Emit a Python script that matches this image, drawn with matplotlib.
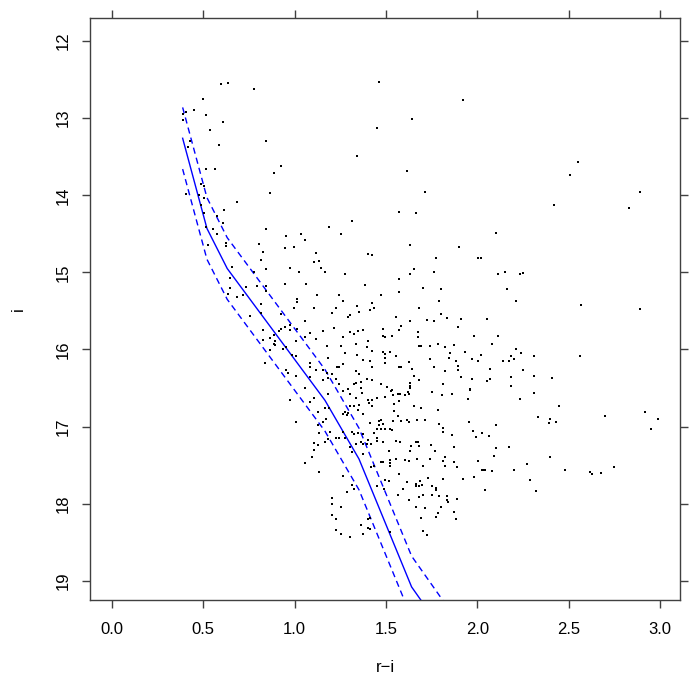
import matplotlib
matplotlib.use("Agg")
import matplotlib.pyplot as plt

plt.rcParams['font.family'] = ['Liberation Sans', 'DejaVu Sans']

# star colours (r-i) and magnitudes (i)
ri = [
    0.597, 0.635, 0.777, 0.498, 0.449, 0.389, 0.405, 0.389, 0.514, 0.607,
    0.536, 0.427, 0.416, 0.586, 0.843, 0.514, 0.564, 0.925, 0.887, 0.487,
    0.504, 0.405, 0.476, 0.865, 0.504, 0.684, 0.487, 0.613, 0.504, 0.575,
    0.607, 0.514, 0.553, 0.843, 1.188, 1.461, 1.921, 1.642, 1.450, 1.341,
    1.615, 1.713, 1.571, 1.664, 1.314, 2.550, 2.507, 2.890, 2.419, 2.830,
    # middle left
    0.575, 0.952, 1.034, 1.056, 0.525, 0.624, 0.624, 0.805, 0.947, 0.996,
    0.826, 1.117, 0.816, 1.106, 1.133, 1.144, 1.166, 0.657, 0.843, 0.974,
    1.024, 0.777, 0.646, 0.947, 1.062, 0.843, 0.794, 0.646, 0.733, 0.843,
    0.635, 0.717, 0.684, 1.122, 1.013, 1.013, 0.816, 0.996, 1.106, 0.816,
    0.925, 0.755, 1.056, 0.974, 0.947, 0.925, 0.914, 0.826, 0.974, 1.013,
    1.084, 1.155, 0.887, 0.865, 1.056, 1.117, 0.826, 0.892, 0.887, 0.892,
    1.007, 1.177, 0.952, 0.936, 0.865, 0.985, 1.007, 1.182, 0.837, 1.084,
    1.084, 1.117, 1.155, 1.177, 1.182, 0.952, 0.963, 1.007, 1.084, 1.155,
    1.056,
    # middle centre
    1.253, 2.102, 1.631, 1.899, 1.401, 1.423, 1.773, 2.003, 2.020, 1.275,
    1.653, 1.631, 1.762, 2.113, 2.151, 1.571, 1.385, 1.702, 1.801, 2.162,
    1.472, 1.571, 1.242, 1.264, 1.790, 1.423, 1.341, 1.434, 1.680, 1.226,
    1.204, 1.412, 1.352, 1.303, 1.292, 1.801, 1.833, 1.554, 1.631, 1.724,
    1.762, 1.910, 2.053, 1.894, 1.582, 1.215, 1.483, 1.571, 1.675, 1.303,
    1.325, 1.346, 1.374, 1.264, 1.483, 1.494, 1.533, 1.675, 1.981, 2.113,
    1.401, 1.335, 2.080, 1.253, 1.396, 1.680, 1.691, 1.741, 1.784, 1.823,
    1.872, 1.275, 1.423, 1.483, 1.522, 1.494, 1.932, 1.850, 1.341, 1.554,
    1.494, 1.844, 2.020, 1.970, 2.003, 1.741, 1.883, 1.374, 1.412, 1.264,
    1.626, 1.494, 2.140, 2.173, 1.232, 1.242, 1.423, 1.571, 1.582, 1.762,
    1.894, 1.642, 1.894, 1.335, 1.823, 2.069, 1.204, 1.352, 1.653, 1.910,
    1.226, 1.396, 1.423, 1.680, 1.970, 2.069, 2.053, 1.242, 1.335, 1.325,
    1.363, 1.472, 1.631, 1.631, 1.812, 1.505, 1.363, 1.292, 1.631, 1.533,
    1.959,
    # middle right
    2.233, 2.250, 2.211, 2.567, 2.890, 2.211, 2.239, 2.184, 2.200, 2.310,
    2.562, 2.250, 2.184, 2.310, 2.408, 2.184,
    # lower left
    0.974, 1.106, 1.182, 1.084, 1.166, 1.188, 1.007, 1.128, 1.171, 1.128,
    1.155, 1.133, 1.106, 1.128, 1.166, 1.106, 1.095, 1.056, 1.133, 1.182,
    1.193,
    # lower centre
    1.264, 1.303, 1.368, 1.335, 1.401, 1.423, 1.407, 1.423, 1.450, 1.494,
    1.527, 1.538, 1.565, 1.576, 1.604, 1.626, 1.620, 1.543, 1.571, 1.352,
    1.303, 1.325, 1.292, 1.275, 1.286, 1.264, 1.374, 1.346, 1.653, 1.691,
    1.784, 1.752, 1.806, 1.861, 1.959, 1.949, 1.543, 1.565, 1.538, 1.582,
    1.615, 1.626, 1.669, 1.713, 1.472, 1.461, 1.412, 1.483, 1.461, 1.472,
    1.450, 1.494, 1.522, 1.533, 1.434, 1.450, 1.450, 1.483, 1.401, 1.418,
    1.396, 1.554, 1.576, 1.363, 1.374, 1.335, 1.325, 1.314, 1.346, 1.374,
    1.275, 1.242, 1.226, 1.264, 1.303, 1.314, 1.374, 1.516, 1.637, 1.631,
    1.664, 1.675, 1.680, 1.746, 1.768, 1.790, 1.812, 1.812, 1.861, 1.954,
    1.976, 1.992, 2.025, 2.063, 2.102, 2.102, 2.173, 1.872, 1.823, 1.812,
    1.872, 1.888, 1.741, 1.669, 1.626, 1.604, 1.554, 1.522, 1.522, 1.522,
    1.483, 1.472, 1.418, 1.434, 1.702, 1.823, 2.003, 2.091, 2.025, 2.031,
    2.041, 2.080, 1.264, 1.571, 1.730, 1.812, 1.921, 1.981, 1.494, 1.516,
    1.615, 1.686, 1.664, 1.664, 1.680, 1.697, 1.773, 1.773, 1.752, 1.450,
    1.489, 1.314, 1.325, 1.286, 1.593, 2.041, 1.204, 1.204, 1.253, 1.204,
    1.226, 1.565, 1.626, 1.680, 1.702, 1.752, 1.790, 1.833, 1.833, 1.839,
    1.888, 1.801, 1.784, 1.773, 1.872, 1.883, 1.713, 1.664, 1.691, 1.401,
    1.412, 1.363, 1.401, 1.412, 1.226, 1.253, 1.303, 1.374, 1.522, 1.702,
    1.724,
    # lower right
    2.310, 2.233, 2.447, 2.332, 2.397, 2.392, 2.430, 2.698, 2.917, 2.988,
    2.950, 2.397, 2.271, 2.200, 2.479, 2.616, 2.627, 2.676, 2.748, 2.288,
    2.321,
]

imag = [
    12.56, 12.54, 12.62, 12.75, 12.89, 12.95, 12.92, 13.02, 12.96, 13.05,
    13.15, 13.30, 13.37, 13.35, 13.30, 13.66, 13.66, 13.62, 13.71, 13.85,
    13.88, 13.98, 14.00, 13.97, 14.04, 14.09, 14.13, 14.19, 14.23, 14.27,
    14.36, 14.41, 14.44, 14.44, 14.41, 12.53, 12.77, 13.01, 13.13, 13.49,
    13.69, 13.96, 14.22, 14.23, 14.33, 13.57, 13.74, 13.96, 14.13, 14.17,
    # middle left
    14.50, 14.53, 14.50, 14.58, 14.65, 14.62, 14.66, 14.63, 14.68, 14.67,
    14.74, 14.75, 14.84, 14.87, 14.85, 14.94, 15.00, 14.93, 14.96, 14.94,
    15.00, 15.00, 15.07, 15.15, 15.15, 15.18, 15.18, 15.20, 15.19, 15.24,
    15.28, 15.29, 15.32, 15.29, 15.35, 15.39, 15.41, 15.46, 15.46, 15.53,
    15.54, 15.57, 15.63, 15.68, 15.71, 15.74, 15.76, 15.75, 15.75, 15.74,
    15.79, 15.76, 15.81, 15.85, 15.84, 15.87, 15.88, 15.89, 15.93, 15.94,
    15.89, 15.96, 15.97, 16.00, 16.01, 16.07, 16.09, 16.11, 16.18, 16.18,
    16.23, 16.27, 16.27, 16.31, 16.37, 16.27, 16.31, 16.35, 16.36, 16.40,
    16.50,
    # middle centre
    14.50, 14.49, 14.65, 14.67, 14.76, 14.78, 14.81, 14.81, 14.81, 15.02,
    14.96, 15.02, 15.00, 15.02, 15.00, 15.09, 15.16, 15.20, 15.22, 15.22,
    15.29, 15.26, 15.29, 15.37, 15.37, 15.40, 15.44, 15.46, 15.46, 15.46,
    15.53, 15.49, 15.51, 15.55, 15.58, 15.54, 15.59, 15.58, 15.63, 15.62,
    15.63, 15.61, 15.61, 15.71, 15.70, 15.72, 15.74, 15.75, 15.77, 15.77,
    15.80, 15.76, 15.75, 15.84, 15.83, 15.84, 15.83, 15.84, 15.83, 15.83,
    15.89, 15.93, 15.93, 15.96, 15.97, 15.96, 15.96, 15.96, 15.93, 15.97,
    15.94, 16.05, 16.02, 16.03, 16.03, 16.06, 16.03, 16.05, 16.07, 16.09,
    16.11, 16.11, 16.07, 16.12, 16.15, 16.12, 16.15, 16.14, 16.15, 16.19,
    16.16, 16.18, 16.15, 16.15, 16.23, 16.23, 16.23, 16.23, 16.23, 16.23,
    16.21, 16.25, 16.27, 16.28, 16.28, 16.25, 16.32, 16.32, 16.35, 16.36,
    16.38, 16.38, 16.40, 16.40, 16.38, 16.38, 16.41, 16.45, 16.44, 16.45,
    16.42, 16.45, 16.44, 16.47, 16.45, 16.49, 16.50, 16.51, 16.50, 16.53,
    16.51,
    # middle right
    15.02, 15.01, 15.37, 15.42, 15.48, 16.00, 16.05, 16.09, 16.12, 16.09,
    16.09, 16.27, 16.36, 16.35, 16.37, 16.47,
    # lower left
    16.66, 16.63, 16.58, 16.68, 16.76, 16.76, 16.94, 16.81, 16.90, 16.98,
    16.94, 17.08, 17.21, 17.24, 17.20, 17.31, 17.40, 17.47, 17.59, 17.16,
    17.07,
    # lower centre
    16.54, 16.58, 16.57, 16.63, 16.66, 16.66, 16.70, 16.73, 16.63, 16.62,
    16.54, 16.59, 16.58, 16.58, 16.59, 16.58, 16.55, 16.71, 16.67, 16.72,
    16.73, 16.73, 16.82, 16.81, 16.85, 16.84, 16.84, 16.79, 16.73, 16.76,
    16.79, 16.55, 16.59, 16.58, 16.53, 16.64, 16.80, 16.86, 16.93, 16.93,
    16.92, 16.94, 16.92, 16.92, 16.92, 16.93, 16.95, 16.97, 16.98, 17.03,
    17.03, 17.03, 17.03, 17.05, 17.08, 17.15, 17.19, 17.20, 17.17, 17.23,
    17.23, 17.19, 17.20, 17.20, 17.23, 17.23, 17.10, 17.07, 17.08, 17.10,
    17.15, 17.15, 17.15, 17.07, 17.27, 17.33, 17.36, 17.32, 17.25, 17.32,
    17.20, 17.20, 17.25, 17.24, 17.32, 16.97, 17.02, 17.07, 17.11, 16.94,
    17.06, 17.14, 17.08, 17.12, 16.98, 17.28, 17.27, 17.27, 17.40, 17.45,
    17.46, 17.53, 17.42, 17.42, 17.45, 17.43, 17.42, 17.43, 17.47, 17.51,
    17.46, 17.46, 17.53, 17.51, 17.51, 17.51, 17.45, 17.38, 17.56, 17.56,
    17.56, 17.58, 17.64, 17.62, 17.67, 17.68, 17.68, 17.65, 17.69, 17.71,
    17.72, 17.71, 17.75, 17.77, 17.77, 17.76, 17.80, 17.82, 17.77, 17.77,
    17.81, 17.76, 17.81, 17.85, 17.81, 17.82, 17.93, 18.01, 18.04, 18.15,
    18.20, 17.89, 17.95, 17.91, 17.89, 17.89, 17.90, 17.90, 17.95, 17.98,
    17.94, 18.04, 18.12, 18.17, 18.11, 18.20, 18.06, 18.04, 18.19, 18.20,
    18.19, 18.28, 18.32, 18.33, 18.34, 18.39, 18.43, 18.39, 18.37, 18.36,
    18.41,
    # lower right
    16.57, 16.64, 16.73, 16.88, 16.90, 16.95, 16.94, 16.86, 16.81, 16.90,
    17.03, 17.40, 17.49, 17.56, 17.56, 17.59, 17.62, 17.60, 17.53, 17.69,
    17.84,
]

# isochrone and the +/-0.4 mag envelope
iso_ri = [0.387, 0.52, 0.631, 1.166, 1.352, 1.640, 1.86]
iso_i = [13.26, 14.43, 14.95, 16.66, 17.42, 19.08, 19.82]
iso_i_bright = [12.86, 14.03, 14.55, 16.26, 17.02, 18.68, 19.42]
iso_i_faint = [13.66, 14.83, 15.35, 17.06, 17.82, 19.48, 20.22]

x_ticks = [0.0, 0.5, 1.0, 1.5, 2.0, 2.5, 3.0]
y_ticks = [12, 13, 14, 15, 16, 17, 18, 19]

frame_col = '#404040'

fig = plt.figure(figsize=(7, 7), dpi=100)
ax = fig.add_axes([90 / 700, 100 / 700, 590 / 700, 582 / 700])

ax.scatter(ri, imag, s=3.2, marker='s', color='black', linewidths=0, zorder=3)
ax.plot(iso_ri, iso_i, color='#0000FF', lw=1.0, zorder=2)
ax.plot(iso_ri, iso_i_bright, color='#0000FF', lw=1.0, ls=(0, (4.5, 3)), zorder=2)
ax.plot(iso_ri, iso_i_faint, color='#0000FF', lw=1.0, ls=(0, (4.5, 3)), zorder=2)

ax.set_xlim(-0.120, 3.109)
ax.set_ylim(19.25, 11.70)
ax.set_xticks(x_ticks)
ax.set_xticklabels(['%.1f' % t for t in x_ticks])
ax.set_yticks(y_ticks)
ax.set_yticklabels([str(t) for t in y_ticks], rotation=90, va='center')

ax.tick_params(direction='out', length=6, width=1, color=frame_col,
               top=True, right=True, labeltop=False, labelright=False,
               labelsize=12)
ax.tick_params(axis='x', pad=10)
ax.tick_params(axis='y', pad=7.5)
for sp in ax.spines.values():
    sp.set_color(frame_col)
    sp.set_linewidth(1)

fig.text(385 / 700, 1 - 668 / 700, 'r\u2212i', ha='center', va='center', fontsize=12)
fig.text(18 / 700, 1 - 309 / 700, 'i', ha='center', va='center', rotation=90, fontsize=12)

fig.savefig('out.png', dpi=100)
